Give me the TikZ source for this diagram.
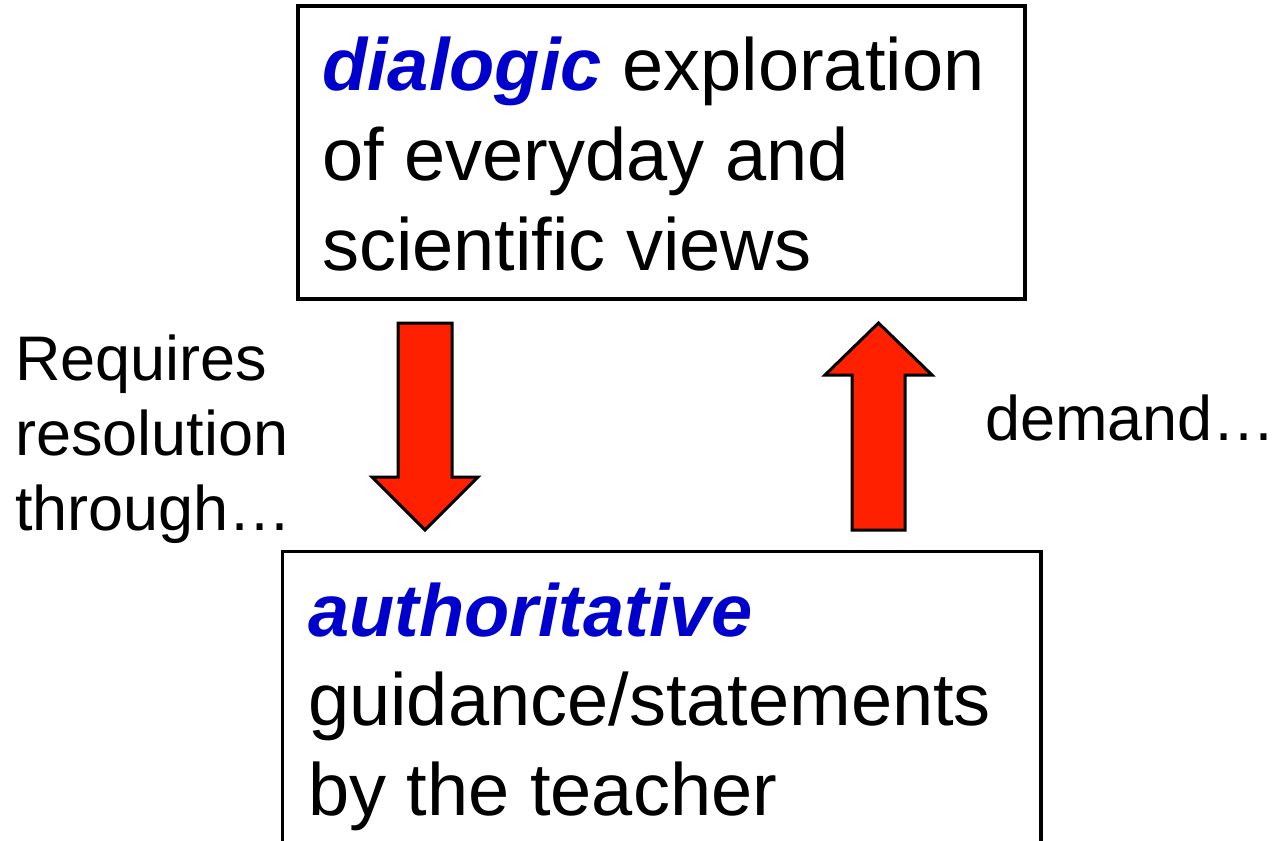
\documentclass[tikz,border=0pt]{standalone}
\usepackage{fontspec}
\setmainfont{Liberation Sans}
\begin{document}
\begin{tikzpicture}[x=1pt,y=-1pt,
  box/.style={draw=black,line width=3.2pt,fill=white,inner sep=0pt},
  big/.style={anchor=base west,inner sep=0pt,font=\fontsize{74}{90}\selectfont},
  side/.style={anchor=base west,inner sep=0pt,font=\fontsize{63}{75}\selectfont},
  blockarrow/.style={draw=black,line width=3pt,fill=arrowred,line join=miter}]
\definecolor{arrowred}{RGB}{255,32,0}
\definecolor{keyblue}{RGB}{0,0,204}
\useasboundingbox (0,0) rectangle (1278,841);
\fill[white] (0,0) rectangle (1278,841);
% boxes
\node[box,minimum width=727pt,minimum height=293pt] (top) at (661.5,152.5) {};
\node[box,minimum width=758.5pt,minimum height=400pt] (bot) at (661.75,751.5) {};
% top box text
\node[big] (t1) at (322,90) {\textcolor{keyblue}{\textbf{\textit{dialogic}}} exploration};
\node[big] (t2) at (322,180) {of everyday and};
\node[big] (t3) at (322,270) {scientific views};
% bottom box text
\node[big] (b1) at (308,636) {\textcolor{keyblue}{\textbf{\textit{authoritative}}}};
\node[big] (b2) at (308,725) {guidance/statements};
\node[big] (b3) at (308,815) {by the teacher};
% side labels
\node[side] (l1) at (15,380) {Requires};
\node[side] (l2) at (15,455) {resolution};
\node[side] (l3) at (15,530) {through…};
\node[side] (r1) at (985,440) {demand…};
% block arrows
\draw[blockarrow] (398,323) -- (452,323) -- (452,477) -- (478,477) -- (425,530)
  -- (372,477) -- (398,477) -- cycle;
\draw[blockarrow] (852,530) -- (905,530) -- (905,375) -- (932,375) -- (878.5,323)
  -- (825,375) -- (852,375) -- cycle;
\end{tikzpicture}
\end{document}
